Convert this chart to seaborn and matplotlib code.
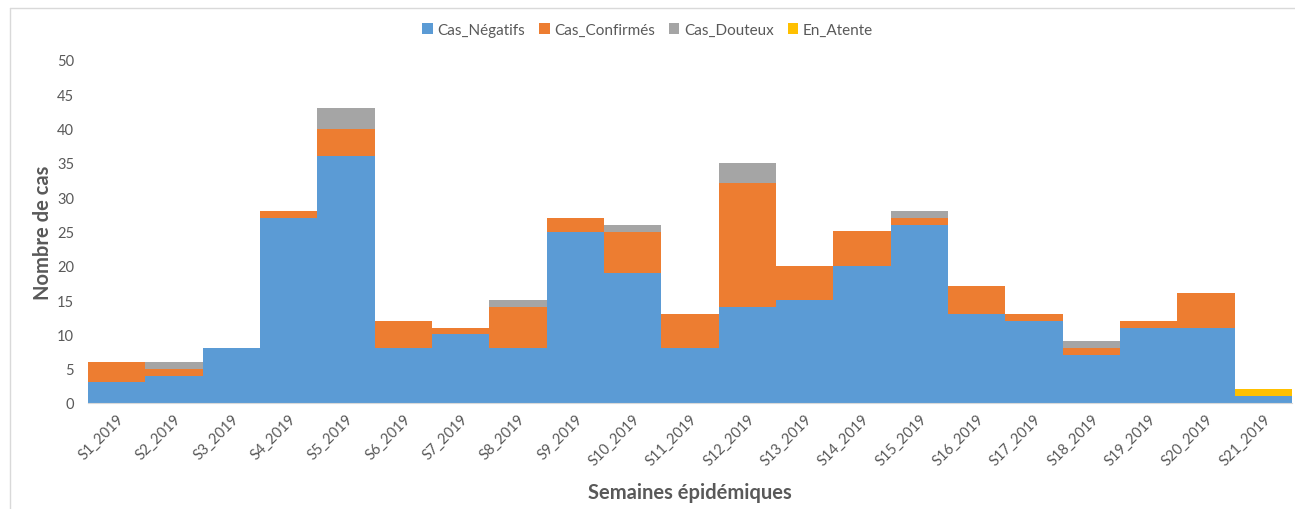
import matplotlib
matplotlib.use("Agg")
import matplotlib.pyplot as plt
import seaborn as sns
import pandas as pd
from matplotlib.patches import Patch

weeks = [f"S{i}_2019" for i in range(1, 22)]
negatifs =   [3, 4, 8, 27, 36, 8, 10, 8, 25, 19, 8, 14, 15, 20, 26, 13, 12, 7, 11, 11, 1]
confirmes =  [3, 1, 0, 1, 4, 4, 1, 6, 2, 6, 5, 18, 5, 5, 1, 4, 1, 1, 1, 5, 0]
douteux =    [0, 1, 0, 0, 3, 0, 0, 1, 0, 1, 0, 3, 0, 0, 1, 0, 0, 1, 0, 0, 0]
en_attente = [0, 0, 0, 0, 0, 0, 0, 0, 0, 0, 0, 0, 0, 0, 0, 0, 0, 0, 0, 0, 1]

series_names = ["Cas_Négatifs", "Cas_Confirmés", "Cas_Douteux", "En_Atente"]
series_vals = [negatifs, confirmes, douteux, en_attente]
colors = ["#5B9BD5", "#ED7D31", "#A5A5A5", "#FFC000"]

rows = []
for name, vals in zip(series_names, series_vals):
    for i, v in enumerate(vals):
        rows.append({"pos": i, "serie": name, "value": v})
df = pd.DataFrame(rows)

sns.set_theme(style="white")
plt.rcParams["font.family"] = ["Lato", "DejaVu Sans"]

fig = plt.figure(figsize=(12.95, 5.10), dpi=100)
ax = fig.add_axes([88 / 1295, 1 - 404 / 510, (1292 - 88) / 1295, (404 - 61) / 510])

# seaborn stacks the last hue level at the bottom
hue_order = series_names[::-1]
palette = dict(zip(series_names, colors))
sns.histplot(data=df, x="pos", weights="value", hue="serie", hue_order=hue_order,
             multiple="stack", discrete=True, shrink=1, palette=palette,
             alpha=1, linewidth=0, legend=False, ax=ax)

ax.set_xlim(-0.5, len(weeks) - 0.5)
ax.set_ylim(0, 50)
ax.set_yticks(range(0, 51, 5))
ax.set_xticks(range(len(weeks)))
ax.set_xticklabels(weeks, rotation=45, ha="right", rotation_mode="anchor")
ax.tick_params(axis="both", colors="#595959", labelsize=10.5, length=0)
ax.tick_params(axis="x", pad=6)
ax.tick_params(axis="y", pad=10)
for lab in ax.get_xticklabels() + ax.get_yticklabels():
    lab.set_color("#595959")

for s in ["top", "right", "left"]:
    ax.spines[s].set_visible(False)
ax.spines["bottom"].set_color("#D9D9D9")
ax.spines["bottom"].set_linewidth(0.8)
ax.grid(False)

ax.set_xlabel("Semaines épidémiques", fontsize=14.5, fontweight="bold", color="#595959", labelpad=10)
ax.set_ylabel("Nombre de cas", fontsize=14.5, fontweight="bold", color="#595959", labelpad=3)

handles = [Patch(facecolor=c, edgecolor="none", label=n) for n, c in zip(series_names, colors)]
fig.legend(handles=handles, loc="center", bbox_to_anchor=(0.5, 1 - 31 / 510), ncol=4,
           frameon=False, fontsize=11, handlelength=0.7, handleheight=0.7,
           handletextpad=0.3, columnspacing=0.9, labelcolor="#595959")

# outer chart border
fig.add_artist(plt.Line2D([10 / 1295, 10 / 1295], [0, 1 - 9 / 510], transform=fig.transFigure,
                          color="#D9D9D9", linewidth=1))
fig.add_artist(plt.Line2D([10 / 1295, 1], [1 - 9 / 510, 1 - 9 / 510], transform=fig.transFigure,
                          color="#D9D9D9", linewidth=1))

fig.savefig("out.png", dpi=100)
